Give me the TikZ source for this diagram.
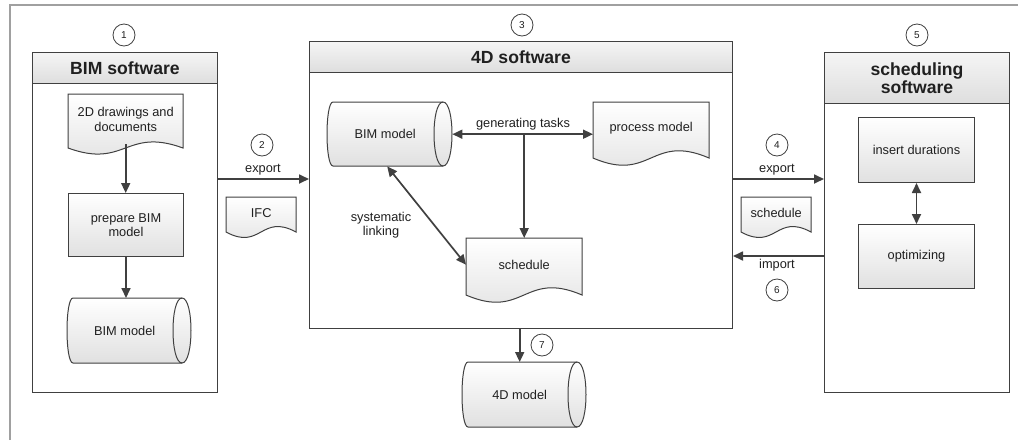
\documentclass[tikz,border=0pt]{standalone}
\usepackage{fontspec}
\setmainfont{Liberation Sans}
\usetikzlibrary{arrows.meta,calc}
\definecolor{ln}{HTML}{404040}
\definecolor{frm}{HTML}{A0A0A0}
\definecolor{txt}{HTML}{202020}
\tikzset{
 every node/.style={font=\fontsize{12.8}{14.5}\selectfont, text=txt},
 cont/.style={draw=ln, line width=1pt, fill=white, anchor=north west, inner sep=0pt},
 head/.style={draw=ln, line width=1pt, top color=black!4, bottom color=black!13, anchor=north west, inner sep=0pt, font=\fontsize{17.6}{19}\selectfont\bfseries, align=center},
 procbox/.style={draw=ln, line width=1pt, top color=white, bottom color=black!12, anchor=north west, inner sep=0pt, align=center},
 shp/.style={anchor=north west, inner sep=0pt, align=center},
 shapeline/.style={draw=ln, line width=1pt, top color=white, bottom color=black!12},
 num/.style={draw=ln, line width=0.8pt, circle, minimum size=22pt, inner sep=0pt, font=\fontsize{10}{12}\selectfont},
 arr/.style={draw=ln, line width=1.7pt, -{Triangle[length=10pt,width=9pt]}},
 darr/.style={draw=ln, line width=1.7pt, {Triangle[length=10pt,width=9pt]}-{Triangle[length=10pt,width=9pt]}},
 lbl/.style={align=center, inner sep=0pt},
}
\newcommand\cylnode[6]{%
 \path[shapeline] ({#2+6},#3) -- ({#4-9},#3) .. controls ({#4+3},#3) and ({#4+3},#5) .. ({#4-9},#5) -- ({#2+6},#5) .. controls ({#2-2},#5) and ({#2-2},#3) .. ({#2+6},#3) -- cycle;
 \draw[ln, line width=1pt] ({#4-9},#3) .. controls ({#4-21},#3) and ({#4-21},#5) .. ({#4-9},#5);
 \node[shp, minimum width={#4-9-#2}, minimum height={#5-#3}] (#1) at (#2,#3) {#6};
}
\newcommand\docnode[7]{%
 \path[shapeline] (#2,#3) -- (#4,#3) -- (#4,#5) .. controls ({(#2+#4)/2},{#5-#6}) and ({(#2+#4)/2},{#5+#6}) .. (#2,#5) -- cycle;
 \node[shp, minimum width={#4-#2}, minimum height={#5-#3-4}] (#1) at (#2,#3) {#7};
}
\begin{document}
\begin{tikzpicture}[x=1pt,y=-1pt]
\useasboundingbox (0,0) rectangle (1018,440);
\fill[white] (0,0) rectangle (1018,440);
\draw[frm, line width=1.5pt] (10,440) -- (10,5) -- (1018,5);

% containers
\node[cont, minimum width=185, minimum height=340] (bimsw) at (32,52) {};
\node[head, minimum width=185, minimum height=31] (bimhead) at (32,52) {BIM software};
\node[cont, minimum width=423, minimum height=287] (sw4d) at (309,41) {};
\node[head, minimum width=423, minimum height=31] (head4d) at (309,41) {4D software};
\node[cont, minimum width=185, minimum height=340] (schsw) at (824,52) {};
\node[head, minimum width=185, minimum height=51] (schhead) at (824,52) {scheduling\\[-1pt]software};

% numbers
\node[num] (n1) at (124,35) {1};
\node[num] (n2) at (262,145) {2};
\node[num] (n3) at (522,25) {3};
\node[num] (n4) at (777,145) {4};
\node[num] (n5) at (917,35) {5};
\node[num] (n6) at (777,290) {6};
\node[num] (n7) at (542,345) {7};

% BIM software
\docnode{doc2d}{68}{94}{183}{148}{21}{2D drawings and\\documents}
\node[procbox, minimum width=115, minimum height=63] (prep) at (68,193) {prepare BIM\\model};
\cylnode{bim1}{67}{298}{191}{363}{BIM model}
\draw[arr] (doc2d.south) -- (doc2d.south |- prep.north);
\draw[arr] (prep.south) -- (prep.south |- bim1.north);

% transfer 2
\draw[arr] (bimsw.east |- 0,179) -- (sw4d.west |- 0,179);
\node[lbl] (lexp2) at (263,170) {export};
\docnode{ifc}{226}{197}{296}{232}{19}{IFC}

% 4D software
\cylnode{bim2}{327}{102}{452}{166}{BIM model}
\docnode{proc}{593}{102}{709}{158}{25}{process model}
\docnode{sched}{466}{238}{582}{295}{25}{schedule}
\coordinate (bim2r) at ([xshift=9pt]bim2.east);
\draw[darr] (bim2r) -- (proc.west |- bim2r);
\node[lbl] (lgen) at (523,124) {generating tasks};
\draw[arr] (sched.north |- bim2r) -- (sched.north);
\draw[darr] ([xshift=2pt]bim2.south) -- (sched.west);
\node[lbl] (lsys) at (381,225) {systematic\\linking};

% 4D model
\cylnode{m4d}{462}{362}{586}{427}{4D model}
\draw[arr] (sw4d.south -| m4d.north) -- (m4d.north);

% transfer 4 / 6
\draw[arr] (sw4d.east |- 0,179) -- (schsw.west |- 0,179);
\node[lbl] (lexp4) at (777,170) {export};
\docnode{sched2}{741}{197}{811}{232}{19}{schedule}
\draw[arr] (schsw.west |- 0,256) -- (sw4d.east |- 0,256);
\node[lbl] (limp) at (777,265) {import};

% scheduling software
\node[procbox, minimum width=116, minimum height=65] (ins) at (858,117) {insert durations};
\node[procbox, minimum width=116, minimum height=64] (opt) at (858,224) {optimizing};
\draw[darr] (ins.south) -- (opt.north);
\end{tikzpicture}
\end{document}
